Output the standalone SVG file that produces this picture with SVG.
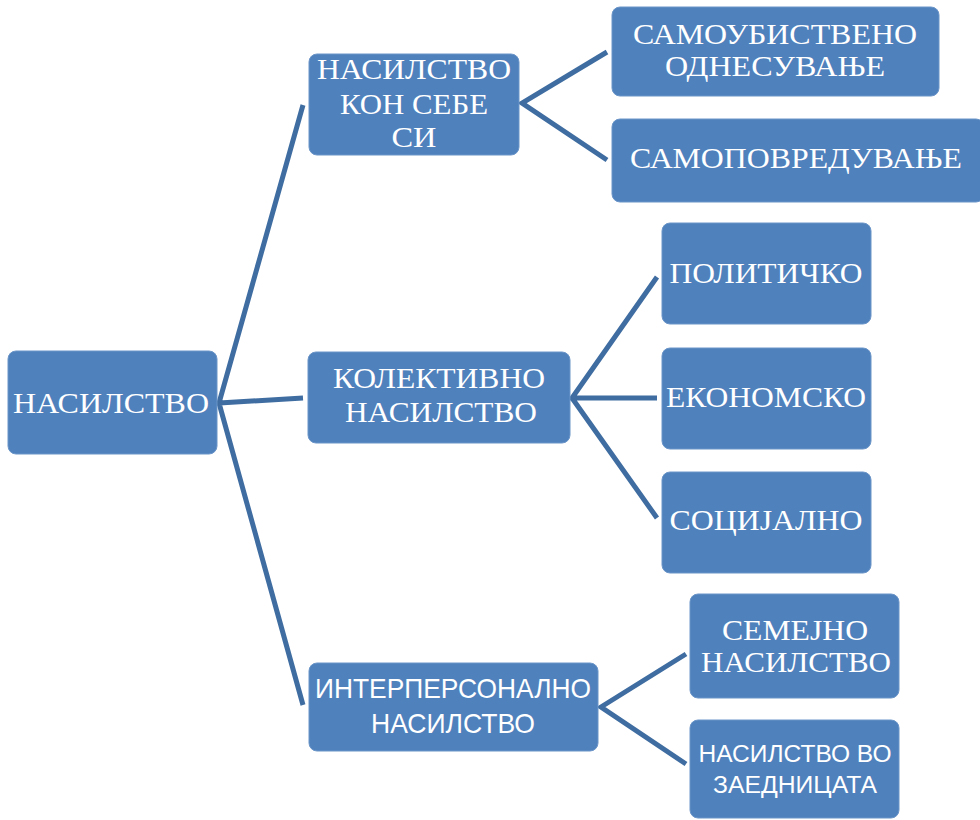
<svg xmlns="http://www.w3.org/2000/svg" width="980" height="820" viewBox="0 0 980 820">
<style>
.box{fill:#4F81BD;stroke:#6B95C8;stroke-width:1}
.t{fill:#ffffff;font-family:"Liberation Serif","DejaVu Serif","Times New Roman",serif;font-size:30px;text-anchor:middle}
.s{fill:#ffffff;font-family:"Liberation Sans",Arial,sans-serif;text-anchor:middle}
.c{stroke:#3F6DA1;stroke-width:5;fill:none;stroke-linecap:butt;stroke-linejoin:miter}
</style>
<rect width="980" height="820" fill="#ffffff"/>
<g id="connectors">
<path class="c" d="M303,105 L219,403 L303,398 M219,403 L303,705"/>
<path class="c" d="M607,52 L522,103 L607,160"/>
<path class="c" d="M657,277 L572,398 L657,398 M572,398 L657,518"/>
<path class="c" d="M686,654 L601,707 L686,764"/>
</g>
<g id="n-root">
<rect class="box" x="8" y="351" width="209" height="103" rx="8"/>
<text class="t" x="111" y="413" textLength="196" lengthAdjust="spacingAndGlyphs">НАСИЛСТВО</text>
</g>
<g id="n-self">
<rect class="box" x="309" y="54" width="210" height="101" rx="8"/>
<text class="t" x="414" y="79" textLength="194" lengthAdjust="spacingAndGlyphs">НАСИЛСТВО</text>
<text class="t" x="414" y="114" textLength="148" lengthAdjust="spacingAndGlyphs">КОН СЕБЕ</text>
<text class="t" x="414" y="147" textLength="45" lengthAdjust="spacingAndGlyphs">СИ</text>
</g>
<g id="n-suicidal">
<rect class="box" x="612" y="7" width="327" height="89" rx="8"/>
<text class="t" x="775" y="44" textLength="284" lengthAdjust="spacingAndGlyphs">САМОУБИСТВЕНО</text>
<text class="t" x="775" y="76" textLength="220" lengthAdjust="spacingAndGlyphs">ОДНЕСУВАЊЕ</text>
</g>
<g id="n-selfharm">
<rect class="box" x="612" y="119" width="372" height="83" rx="8"/>
<text class="t" x="796" y="168" textLength="332" lengthAdjust="spacingAndGlyphs">САМОПОВРЕДУВАЊЕ</text>
</g>
<g id="n-collective">
<rect class="box" x="308" y="352" width="262" height="91" rx="8"/>
<text class="t" x="439" y="388" textLength="212" lengthAdjust="spacingAndGlyphs">КОЛЕКТИВНО</text>
<text class="t" x="441" y="422" textLength="192" lengthAdjust="spacingAndGlyphs">НАСИЛСТВО</text>
</g>
<g id="n-political">
<rect class="box" x="662" y="223" width="209" height="101" rx="8"/>
<text class="t" x="766" y="283" textLength="193" lengthAdjust="spacingAndGlyphs">ПОЛИТИЧКО</text>
</g>
<g id="n-economic">
<rect class="box" x="662" y="348" width="209" height="101" rx="8"/>
<text class="t" x="766" y="407" textLength="200" lengthAdjust="spacingAndGlyphs">ЕКОНОМСКО</text>
</g>
<g id="n-social">
<rect class="box" x="662" y="472" width="209" height="101" rx="8"/>
<text class="t" x="766" y="530" textLength="193" lengthAdjust="spacingAndGlyphs">СОЦИЈАЛНО</text>
</g>
<g id="n-interpersonal">
<rect class="box" x="309" y="663" width="289" height="88" rx="8"/>
<text class="s" x="453" y="698" font-size="28" textLength="276" lengthAdjust="spacingAndGlyphs">ИНТЕРПЕРСОНАЛНО</text>
<text class="s" x="453" y="733" font-size="28" textLength="164" lengthAdjust="spacingAndGlyphs">НАСИЛСТВО</text>
</g>
<g id="n-family">
<rect class="box" x="690" y="594" width="209" height="104" rx="8"/>
<text class="t" x="795" y="640" textLength="146" lengthAdjust="spacingAndGlyphs">СЕМЕЈНО</text>
<text class="t" x="796" y="672" textLength="190" lengthAdjust="spacingAndGlyphs">НАСИЛСТВО</text>
</g>
<g id="n-community">
<rect class="box" x="690" y="720" width="209" height="98" rx="8"/>
<text class="s" x="795" y="762" font-size="23" textLength="193" lengthAdjust="spacingAndGlyphs">НАСИЛСТВО ВО</text>
<text class="s" x="795" y="793" font-size="23" textLength="164" lengthAdjust="spacingAndGlyphs">ЗАЕДНИЦАТА</text>
</g>
</svg>
